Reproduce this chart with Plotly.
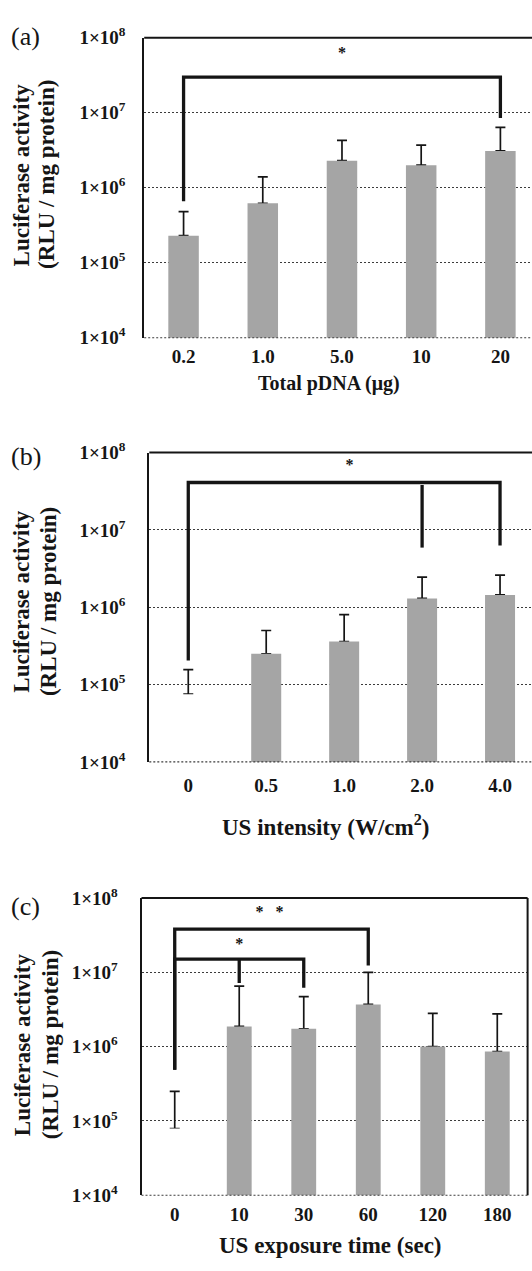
import plotly.graph_objects as go

W, H = 532, 1271

# ---------------- data ----------------
a_labels = ["0.2", "1.0", "5.0", "10", "20"]
a_mean = [2.3e5, 6.2e5, 2.3e6, 2.0e6, 3.1e6]
a_upper = [4.8e5, 1.4e6, 4.3e6, 3.7e6, 6.4e6]

b_labels = ["0", "0.5", "1.0", "2.0", "4.0"]
b_mean = [7.5e4, 2.5e5, 3.6e5, 1.3e6, 1.44e6]
b_upper = [1.56e5, 5.0e5, 8.0e5, 2.45e6, 2.6e6]

c_labels = ["0", "10", "30", "60", "120", "180"]
c_mean = [7.9e4, 1.87e6, 1.74e6, 3.7e6, 1.0e6, 8.6e5]
c_upper = [2.5e5, 6.5e6, 4.7e6, 1.0e7, 2.8e6, 2.75e6]

# significance brackets: [x_left, x_right, y_bar, y_left_end, y_right_end]
a_brackets = [[0, 4, 3.0e7, 6.6e5, 8.5e6]]
b_brackets = [[0, 4, 4.1e7, 2.05e5, 6.3e6]]
c_brackets = [[0, 3, 3.8e7, 4.9e5, 1.23e7], [0, 2, 1.5e7, 4.9e5, 6.2e6]]
# extra legs: [x, y_top, y_bottom]
a_legs = []
b_legs = [[3, 3.8e7, 5.9e6]]
c_legs = [[1, 1.5e7, 7.2e6]]
# stars: [x, y, text]
a_stars = [[2.0, 6.1e7, "*"]]
b_stars = [[2.07, 6.7e7, "*"]]
c_stars = [[1.47, 6.2e7, "*\u00a0\u00a0\u00a0*"], [1.0, 2.3e7, "*"]]

y_tickvals = [1e4, 1e5, 1e6, 1e7, 1e8]
y_ticktext = ["1×10<sup>4</sup>", "1×10<sup>5</sup>", "1×10<sup>6</sup>",
              "1×10<sup>7</sup>", "1×10<sup>8</sup>"]

# ---------------- style ----------------
SERIF = "Liberation Serif"
BAR = "#a5a5a5"
INK = "#151515"
GRID = "#3c3c3c"
BARW = 0.385


def b(t):
    return "<b>" + t + "</b>"


fig = go.Figure()

panels = [
    dict(labels=a_labels, mean=a_mean, upper=a_upper, brackets=a_brackets, legs=a_legs, stars=a_stars,
         xd=[144.2 / W, 1.0], yd=[1 - 331 / H, 1 - 25.3 / H], xr=[-0.497, 4.399],
         std_y=13, std_x=5, right=False),
    dict(labels=b_labels, mean=b_mean, upper=b_upper, brackets=b_brackets, legs=b_legs, stars=b_stars,
         xd=[149.3 / W, 1.0], yd=[1 - 763.3 / H, 1 - 448 / H], xr=[-0.50, 4.41],
         std_y=18, std_x=10, right=False),
    dict(labels=c_labels, mean=c_mean, upper=c_upper, brackets=c_brackets, legs=c_legs, stars=c_stars,
         xd=[141.5 / W, 527.6 / W], yd=[1 - 1205 / H, 1 - 902 / H], xr=[-0.515, 5.47],
         std_y=18, std_x=6, right=True),
]

shapes = []
for i, p in enumerate(panels):
    k = "" if i == 0 else str(i + 1)
    xa, ya = "x" + k, "y" + k
    n = len(p["labels"])
    xs = list(range(n))
    err_plus = [u - m for u, m in zip(p["upper"], p["mean"])]
    # control group ("0") is drawn without a visible bar
    colors = ["white" if lab == "0" else BAR for lab in p["labels"]]
    # error bars (drawn under the bars)
    fig.add_trace(go.Bar(x=xs, y=p["mean"], width=BARW, marker=dict(color="rgba(0,0,0,0)", line_width=0),
                         error_y=dict(type="data", symmetric=False, array=err_plus,
                                      arrayminus=[0] * n, color=INK, thickness=1.7, width=5),
                         xaxis=xa, yaxis=ya, showlegend=False, hoverinfo="skip"))
    fig.add_trace(go.Bar(x=xs, y=p["mean"], width=BARW, marker=dict(color=colors, line_width=0),
                         xaxis=xa, yaxis=ya, showlegend=False))
    for xl, xr_, yb, yle, yre in p["brackets"]:
        fig.add_trace(go.Scatter(x=[xl, xl, xr_, xr_], y=[yle, yb, yb, yre], mode="lines",
                                 line=dict(color=INK, width=3.3), xaxis=xa, yaxis=ya,
                                 showlegend=False, hoverinfo="skip"))
    for xx, yt, ybm in p["legs"]:
        fig.add_trace(go.Scatter(x=[xx, xx], y=[yt, ybm], mode="lines",
                                 line=dict(color=INK, width=3.3), xaxis=xa, yaxis=ya,
                                 showlegend=False, hoverinfo="skip"))
    fig.add_trace(go.Scatter(x=[s[0] for s in p["stars"]], y=[s[1] for s in p["stars"]],
                             text=[b(s[2]) for s in p["stars"]], mode="text", textposition="middle center",
                             textfont=dict(family=SERIF, size=16, color=INK),
                             xaxis=xa, yaxis=ya, showlegend=False, hoverinfo="skip"))

    fig.layout["xaxis" + k] = dict(domain=p["xd"], range=p["xr"], anchor=ya, tickmode="array",
                                   tickvals=xs, ticktext=[b(t) for t in p["labels"]],
                                   showgrid=False, zeroline=False,
                                   showline=False, ticks="", ticklabelstandoff=p["std_x"],
                                   tickfont=dict(family=SERIF, size=19, color=INK),
                                   fixedrange=True)
    fig.layout["yaxis" + k] = dict(domain=p["yd"], type="log", range=[4, 8], anchor=xa,
                                   tickmode="array", tickvals=y_tickvals,
                                   ticktext=[b(t) for t in y_ticktext],
                                   showgrid=True, gridcolor=GRID, gridwidth=1, griddash="2px,2px",
                                   showline=True, linecolor=INK, linewidth=2, zeroline=False,
                                   ticks="", ticklabelstandoff=p["std_y"],
                                   tickfont=dict(family=SERIF, size=19, color=INK),
                                   fixedrange=True)
    shapes.append(dict(type="line", xref=xa + " domain", yref=ya + " domain", x0=0, x1=1, y0=1, y1=1,
                       line=dict(color=INK, width=2)))
    shapes.append(dict(type="line", xref=xa + " domain", yref=ya + " domain", x0=0, x1=1, y0=0, y1=0,
                       line=dict(color=GRID, width=1.2, dash="2px,2px")))
    if p["right"]:
        shapes.append(dict(type="line", xref=xa + " domain", yref=ya + " domain", x0=1, x1=1, y0=0, y1=1,
                           line=dict(color=INK, width=2)))


def ann(text, px, py, size, bold=True, angle=0):
    return dict(text=b(text) if bold else text, x=px / W, y=1 - py / H, xref="paper", yref="paper",
                xanchor="center", yanchor="middle", showarrow=False, textangle=angle,
                font=dict(family=SERIF, size=size, color=INK))


annotations = [
    ann("(a)", 25, 24, 26, bold=False),
    ann("(b)", 26, 452, 26, bold=False),
    ann("(c)", 25, 911, 26, bold=False),
    ann("Luciferase activity", 21.5, 165, 23, angle=-90),
    ann("(RLU / mg protein)", 47, 165, 23, angle=-90),
    ann("Luciferase activity", 22, 600, 23, angle=-90),
    ann("(RLU / mg protein)", 48.4, 600, 23, angle=-90),
    ann("Luciferase activity", 22, 1052, 23, angle=-90),
    ann("(RLU / mg protein)", 50, 1052, 23, angle=-90),
    ann("Total pDNA (μg)", 329, 378, 20),
    ann("US intensity (W/cm<sup>2</sup>)", 325.7, 828, 23),
    ann("US exposure time (sec)", 330.8, 1256.7, 23),
]

fig.update_layout(width=W, height=H, margin=dict(l=0, r=0, t=0, b=0),
                  paper_bgcolor="white", plot_bgcolor="white", barmode="overlay",
                  shapes=shapes, annotations=annotations, showlegend=False,
                  font=dict(family=SERIF, color=INK))

fig.write_html("out.html")
